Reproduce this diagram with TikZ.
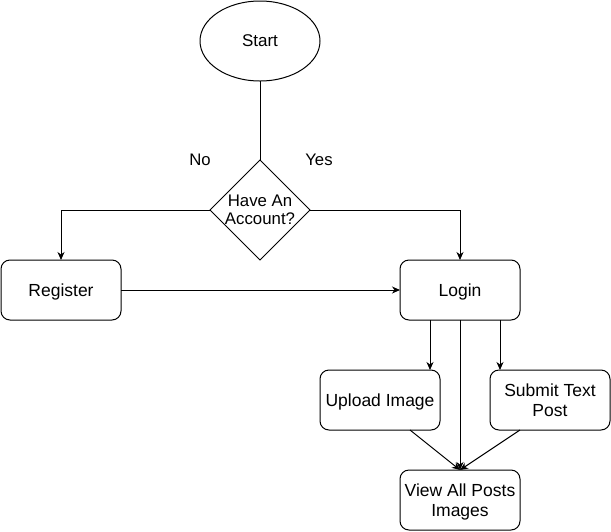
\documentclass[tikz,border=0pt]{standalone}
\usepackage{fontspec}
\setmainfont{Liberation Sans}
\usetikzlibrary{shapes.geometric,arrows.meta}
\begin{document}
\begin{tikzpicture}[x=1pt,y=-1pt,
  every node/.style={inner sep=0pt,outer sep=0pt},
  box/.style={draw,line width=1pt,rounded corners=9pt,minimum width=120pt,minimum height=60pt,align=center,text depth=0pt,font=\fontsize{17.5}{20}\selectfont},
  lbl/.style={font=\fontsize{16.7}{18}\selectfont},
  conn/.style={line width=1pt},
  arr/.style={line width=1pt,-{Stealth[length=8pt,width=7pt,inset=2.5pt]}}]
\useasboundingbox (0,0) rectangle (611,531);
\node[draw,ellipse,line width=1pt,minimum width=120pt,minimum height=80pt,font=\fontsize{17}{20}\selectfont] (start) at (260,41) {Start};
\node[draw,diamond,line width=1pt,minimum width=100pt,minimum height=100pt,
  label={[align=center,text depth=0pt,font=\fontsize{16.8}{18}\selectfont]center:Have An\\Account?}] (acc) at (260,210) {};
\node[box] (reg) at (61,290) {Register};
\node[box] (login) at (460,290) {Login};
\node[box] (up) at (380,400) {Upload Image};
\node[box] (sub) at (550,400) {Submit Text\\Post};
\node[box] (view) at (460,500) {View All Posts\\Images};
\node[lbl] (no) at (200,160) {No};
\node[lbl] (yes) at (319,160) {Yes};
\coordinate (cl) at (61,210);
\coordinate (cr) at (460,210);
\draw[conn] (start.south) -- (acc.north);
\draw[arr] (acc.west) -- (cl) -- (reg.north);
\draw[arr] (acc.east) -- (cr) -- (login.north);
\draw[arr] (reg.east) -- (login.west);
\draw[arr] ([xshift=-30pt]login.south) -- ([xshift=-30pt]login.south |- up.north);
\draw[arr] ([xshift=40pt]login.south) -- ([xshift=40pt]login.south |- sub.north);
\draw[arr] (login.south) -- (view.north);
\draw[arr] ([xshift=30pt]up.south) -- (view.north);
\draw[arr] ([xshift=-30pt]sub.south) -- (view.north);
\end{tikzpicture}
\end{document}
